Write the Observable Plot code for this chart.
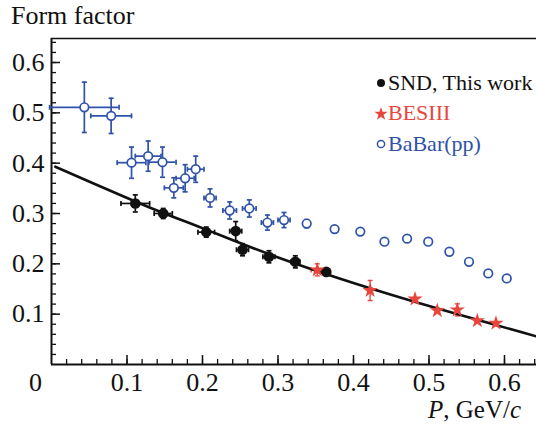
<!DOCTYPE html>
<html><head><meta charset="utf-8">
<script src="https://cdn.jsdelivr.net/npm/d3@7"></script>
<script src="https://cdn.jsdelivr.net/npm/@observablehq/plot@0.6"></script>
<style>body{margin:0;background:#fff}#chart svg{display:block}</style>
</head><body><div id="chart"></div>
<script>
// ---- data ----
const sndP    = [0.111, 0.148, 0.205, 0.244, 0.253, 0.288, 0.323, 0.364];
const sndF    = [0.320, 0.300, 0.263, 0.265, 0.228, 0.214, 0.204, 0.184];
const sndPerr = [0.019, 0.012, 0.011, 0.008, 0.008, 0.008, 0.006, 0.004];
const sndFerr = [0.017, 0.010, 0.010, 0.019, 0.012, 0.012, 0.012, 0.006];

const besP    = [0.352, 0.422, 0.4815, 0.511, 0.5375, 0.564, 0.5887];
const besF    = [0.188, 0.147, 0.130, 0.107, 0.1085, 0.087, 0.082];
const besPerr = [0.008, 0.003, 0, 0, 0, 0, 0];
const besFerr = [0.012, 0.020, 0, 0, 0.012, 0, 0];

const babP    = [0.0435, 0.079, 0.106, 0.128, 0.147, 0.162, 0.177, 0.191, 0.210, 0.236, 0.262, 0.286, 0.308, 0.338, 0.375, 0.409, 0.441, 0.471, 0.499, 0.527, 0.553, 0.5785, 0.603];
const babF    = [0.511, 0.494, 0.401, 0.414, 0.402, 0.351, 0.370, 0.388, 0.331, 0.306, 0.310, 0.282, 0.287, 0.280, 0.269, 0.264, 0.244, 0.250, 0.244, 0.224, 0.204, 0.181, 0.171];
const babPerr = [0.046, 0.027, 0.019, 0.017, 0.018, 0.0125, 0.012, 0.011, 0.008, 0.009, 0.009, 0.008, 0.008, 0.004, 0, 0, 0, 0, 0, 0, 0, 0, 0];
const babFerr = [0.050, 0.035, 0.031, 0.030, 0.030, 0.020, 0.027, 0.026, 0.018, 0.017, 0.017, 0.015, 0.015, 0.008, 0, 0, 0, 0, 0, 0, 0, 0, 0];

const fitP = [0.005, 0.130, 0.200, 0.303, 0.462, 0.642];
const fitF = [0.393, 0.312, 0.271, 0.211, 0.133, 0.056];

const xMajor = [0.1, 0.2, 0.3, 0.4, 0.5, 0.6];
const yMajor = [0.1, 0.2, 0.3, 0.4, 0.5, 0.6];
const minorStep = 0.02;

const seriesNames  = ["SND, This work", "BESIII", "BaBar(pp)"];
const seriesColors = ["#111111", "#e8463c", "#2f52a8"];

// ---- build tables ----
const tab = (P, F, EP, EF) => P.map((p, i) => ({p, f: F[i], ep: EP[i], ef: EF[i]}));
const snd = tab(sndP, sndF, sndPerr, sndFerr);
const bes = tab(besP, besF, besPerr, besFerr);
const bab = tab(babP, babF, babPerr, babFerr);
const fit = fitP.map((p, i) => ({p, f: fitF[i]}));

const W = 536, H = 432, mL = 51, mR = 0, mT = 38, mB = 68;
const xDom = [0, 0.6424], yDom = [0, 0.6477];
const pxX = (W - mL - mR) / (xDom[1] - xDom[0]);
const pxY = (H - mT - mB) / (yDom[1] - yDom[0]);

const xMinor = d3.range(1, Math.floor(xDom[1] / minorStep + 1e-9) + 1).map(i => +(i * minorStep).toFixed(3));
const yMinor = d3.range(1, Math.floor(yDom[1] / minorStep + 1e-9) + 1).map(i => +(i * minorStep).toFixed(3));

const capH = {draw(ctx, size) { const r = Math.sqrt(size / Math.PI); ctx.moveTo(-r, 0); ctx.lineTo(r, 0); }};
const capV = {draw(ctx, size) { const r = Math.sqrt(size / Math.PI); ctx.moveTo(0, -r); ctx.lineTo(0, r); }};

function errMarks(data, color, sw) {
  const dx = data.filter(d => d.ep > 0), dy = data.filter(d => d.ef > 0);
  return [
    Plot.ruleY(dx, {y: "f", x1: d => d.p - d.ep, x2: d => d.p + d.ep, stroke: color, strokeWidth: sw}),
    Plot.ruleX(dy, {x: "p", y1: d => d.f - d.ef, y2: d => d.f + d.ef, stroke: color, strokeWidth: sw}),
    Plot.dot(dx, {x: d => d.p - d.ep, y: "f", symbol: capV, r: 2.5, stroke: color, strokeWidth: sw, fill: "none"}),
    Plot.dot(dx, {x: d => d.p + d.ep, y: "f", symbol: capV, r: 2.5, stroke: color, strokeWidth: sw, fill: "none"}),
    Plot.dot(dy, {x: "p", y: d => d.f - d.ef, symbol: capH, r: 2.5, stroke: color, strokeWidth: sw, fill: "none"}),
    Plot.dot(dy, {x: "p", y: d => d.f + d.ef, symbol: capH, r: 2.5, stroke: color, strokeWidth: sw, fill: "none"})
  ];
}

const font = "\"Liberation Serif\", \"Times New Roman\", serif";
const fmt = d3.format(".1f");

const chart = Plot.plot({
  width: W, height: H,
  marginLeft: mL, marginRight: mR, marginTop: mT, marginBottom: mB,
  style: {fontFamily: font, fontSize: "26px", background: "#fff", color: "#111"},
  x: {domain: xDom},
  y: {domain: yDom},
  marks: [
    // minor/major ticks (inside)
    Plot.ruleX(xMinor, {x: d => d, y1: yDom[0], y2: yDom[0] + 5 / pxY, stroke: "#111", strokeWidth: 1.3}),
    Plot.ruleX(xMajor, {x: d => d, y1: yDom[0], y2: yDom[0] + 9 / pxY, stroke: "#111", strokeWidth: 1.5}),
    Plot.ruleY(yMinor, {y: d => d, x1: xDom[0], x2: xDom[0] + 5 / pxX, stroke: "#111", strokeWidth: 1.3}),
    Plot.ruleY(yMajor, {y: d => d, x1: xDom[0], x2: xDom[0] + 9 / pxX, stroke: "#111", strokeWidth: 1.5}),
    // frame (left, bottom, top)
    Plot.ruleX([xDom[0]], {stroke: "#111", strokeWidth: 2}),
    Plot.ruleY([yDom[0]], {stroke: "#111", strokeWidth: 2}),
    Plot.ruleY([yDom[1]], {stroke: "#111", strokeWidth: 1.5}),
    // axes labels
    Plot.axisX(xMajor, {tickSize: 0, tickPadding: 8, label: null, fontSize: 26, tickFormat: fmt}),
    Plot.text([xDom[0]], {x: d => d, y: yDom[0], text: () => "0", dx: -16, dy: 8, lineAnchor: "top", fontSize: 26}),
    Plot.axisY(yMajor, {tickSize: 0, tickPadding: 7, label: null, fontSize: 26, tickFormat: fmt}),
    // error bars
    ...errMarks(bab, seriesColors[2], 1.7),
    ...errMarks(snd, seriesColors[0], 1.7),
    ...errMarks(bes, seriesColors[1], 1.4),
    // fit curve
    Plot.line(fit, {x: "p", y: "f", curve: "natural", stroke: "#111", strokeWidth: 2.6}),
    // markers
    Plot.dot(bab, {x: "p", y: "f", r: 4.3, fill: "#fff", stroke: seriesColors[2], strokeWidth: 1.7}),
    Plot.dot(snd, {x: "p", y: "f", r: 5.3, fill: seriesColors[0], stroke: "none"}),
    Plot.dot(bes, {x: "p", y: "f", symbol: "star", r: 4.8, fill: seriesColors[1], stroke: "none"})
  ]
});

const svg = d3.select(chart);
svg.append("text").attr("x", 11).attr("y", 24).attr("font-size", 26).attr("fill", "#111")
  .attr("text-anchor", "start").style("font-family", font).text("Form factor");
const xl = svg.append("text").attr("x", 521).attr("y", 418).attr("text-anchor", "end")
  .attr("font-size", 25).attr("fill", "#111").style("font-family", font);
xl.append("tspan").attr("font-style", "italic").text("P");
xl.append("tspan").text(", GeV/");
xl.append("tspan").attr("font-style", "italic").text("c");

// legend
const lgY = [83, 114, 144], lgBase = [90, 120, 151];
const lgSym = [
  d3.symbol(d3.symbolCircle, Math.PI * 4 * 4)(),
  d3.symbol(d3.symbolStar, 7 * 7 / 0.8908)(),
  d3.symbol(d3.symbolCircle, Math.PI * 3.6 * 3.6)()
];
seriesNames.forEach((name, i) => {
  const g = svg.append("g");
  const p = g.append("path").attr("d", lgSym[i]).attr("transform", `translate(381,${lgY[i]})`);
  if (i === 2) p.attr("fill", "#fff").attr("stroke", seriesColors[i]).attr("stroke-width", 1.5);
  else p.attr("fill", seriesColors[i]);
  g.append("text").attr("x", 388).attr("y", lgBase[i]).attr("font-size", 22)
    .attr("text-anchor", "start").attr("fill", seriesColors[i]).style("font-family", font).text(name);
});

document.getElementById("chart").appendChild(chart);
</script>
</body></html>
